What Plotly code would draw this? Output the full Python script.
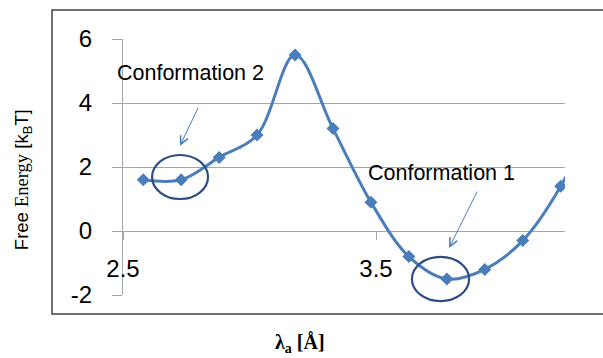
import plotly.graph_objects as go

# ---- data ----
lam = [2.58, 2.73, 2.88, 3.03, 3.18, 3.33, 3.48, 3.63, 3.78, 3.93, 4.08, 4.23, 4.38]
energy = [1.6, 1.6, 2.3, 3.0, 5.5, 3.2, 0.9, -0.8, -1.5, -1.2, -0.3, 1.4, 3.9]
x_ticks = [2.5, 3.5]
x_tick_text = ["2.5", "3.5"]
y_ticks = [-2, 0, 2, 4, 6]
y_tick_text = ["-2", "0", "2", "4", "6"]
X_RANGE = [2.5, 4.247]
Y_RANGE = [-2, 6]

BLUE = "#4A7EBB"
NAVY = "#2E4D86"
GRID = "#A6A6A6"
SANS = "Liberation Sans, Arial"
SERIF = "Liberation Serif, Times New Roman"


def ypaper(v):
    return (v - Y_RANGE[0]) / (Y_RANGE[1] - Y_RANGE[0])


fig = go.Figure()
fig.add_trace(go.Scatter(
    x=lam, y=energy, mode="lines+markers",
    line=dict(color=BLUE, width=3, shape="spline", smoothing=1),
    marker=dict(symbol="diamond", size=10, color=BLUE),
    showlegend=False, hoverinfo="skip",
))

shapes = [
    # outer frame
    dict(type="rect", xref="paper", yref="paper", x0=-0.1606, x1=1.2, y0=-0.074, y1=1.113,
         line=dict(color="#404040", width=1.5), layer="below"),
    # ellipses
    dict(type="circle", xref="x", yref="paper", x0=2.615, x1=2.836,
         y0=ypaper(1.0), y1=ypaper(2.375), line=dict(color=NAVY, width=2.2)),
    dict(type="circle", xref="x", yref="paper", x0=3.642, x1=3.868,
         y0=ypaper(-2.19), y1=ypaper(-0.81), line=dict(color=NAVY, width=2.2)),
]

annotations = [
    dict(x=2.765, y=4.94, xref="x", yref="y", text="Conformation 2", showarrow=False,
         xanchor="center", yanchor="middle",
         font=dict(family=SANS, size=21.5, color="black")),
    dict(x=3.757, y=1.8, xref="x", yref="y", text="Conformation 1", showarrow=False,
         xanchor="center", yanchor="middle",
         font=dict(family=SANS, size=21.5, color="black")),
    dict(x=2.725, y=2.66, xref="x", yref="y", ax=2.80, ay=3.9, axref="x", ayref="y",
         text="", showarrow=True, arrowhead=5, arrowsize=1.6, arrowwidth=1, arrowcolor=BLUE),
    dict(x=3.789, y=-0.53, xref="x", yref="y", ax=3.903, ay=1.28, axref="x", ayref="y",
         text="", showarrow=True, arrowhead=5, arrowsize=1.6, arrowwidth=1, arrowcolor=BLUE),
    # axis titles
    dict(x=-0.226, y=0.449, xref="paper", yref="paper", textangle=-90, showarrow=False,
         xanchor="center", yanchor="middle",
         text='Free <span style="font-family:Liberation Serif, Times New Roman">Energy</span> [k<sub>B</sub>T]',
         font=dict(family=SANS, size=18.5, color="black")),
    dict(x=0.40, y=-0.1875, xref="paper", yref="paper", showarrow=False,
         xanchor="center", yanchor="middle",
         text="<b>λ<sub>a</sub> [Å]</b>",
         font=dict(family=SERIF, size=20, color="black")),
]

fig.update_layout(
    width=603, height=358,
    margin=dict(l=123, r=38, t=39, b=63),
    paper_bgcolor="white", plot_bgcolor="white",
    shapes=shapes, annotations=annotations,
    xaxis=dict(range=X_RANGE, anchor="free", position=ypaper(0),
               tickvals=x_ticks, ticktext=x_tick_text,
               ticks="outside", ticklen=8, tickcolor=GRID, tickwidth=1,
               showgrid=False, zeroline=False, showline=False,
               ticklabelstandoff=8,
               tickfont=dict(family=SANS, size=24, color="black")),
    yaxis=dict(range=Y_RANGE, tickvals=y_ticks, ticktext=y_tick_text,
               ticks="outside", ticklen=10, tickcolor=GRID, tickwidth=1,
               showgrid=True, gridcolor=GRID, gridwidth=1,
               showline=True, linecolor=GRID, linewidth=1, zeroline=False,
               ticklabelstandoff=15,
               tickfont=dict(family=SANS, size=24, color="black")),
)

fig.write_html("out.html", config={"displayModeBar": False},
               post_script="document.body.style.margin='0px';document.documentElement.style.margin='0px';")
